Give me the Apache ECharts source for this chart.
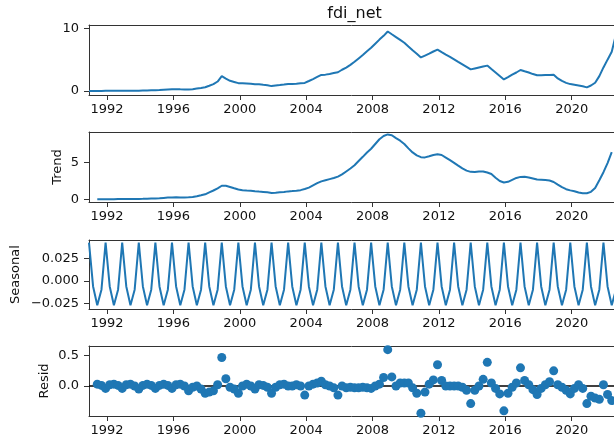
<!DOCTYPE html>
<html>
<head>
<meta charset="utf-8">
<script src="https://cdn.jsdelivr.net/npm/echarts@6/dist/echarts.min.js"></script>
</head>
<body style="margin:0">
<div id="chart" style="width:614px;height:444px"></div>
<script>
// quarterly observations, Dec 1990 .. Dec 2022 (first value Dec 1990, then Mar/Jun/Sep/Dec per year)
const observed = [
  0.00,
  0.00, 0.01, 0.01, 0.02,   // 1991
  0.03, 0.02, 0.03, 0.03,   // 1992
  0.04, 0.04, 0.04, 0.04,   // 1993
  0.06, 0.08, 0.10, 0.12,   // 1994
  0.15, 0.19, 0.23, 0.26,   // 1995
  0.28, 0.26, 0.25, 0.25,   // 1996
  0.29, 0.39, 0.49, 0.60,   // 1997
  0.84, 1.09, 1.51, 2.36,   // 1998
  1.96, 1.63, 1.44, 1.25,   // 1999
  1.24, 1.20, 1.15, 1.09,   // 2000
  1.06, 0.98, 0.93, 0.78,   // 2001
  0.87, 0.94, 1.02, 1.12,   // 2002
  1.11, 1.17, 1.24, 1.29,   // 2003
  1.59, 1.90, 2.24, 2.57,   // 2004
  2.61, 2.72, 2.86, 2.99,   // 2005
  3.39, 3.74, 4.17, 4.66,   // 2006
  5.20, 5.75, 6.35, 6.90,   // 2007
  7.55, 8.20, 8.80, 9.50,   // 2008
  9.05, 8.60, 8.15, 7.70,   // 2009
  7.10, 6.50, 5.95, 5.35,   // 2010
  5.65, 5.95, 6.30, 6.60,   // 2011
  6.20, 5.80, 5.45, 5.05,   // 2012
  4.65, 4.25, 3.85, 3.45,   // 2013
  3.60, 3.75, 3.90, 4.05,   // 2014
  3.50, 2.95, 2.40, 1.85,   // 2015
  2.20, 2.60, 2.95, 3.35,   // 2016
  3.15, 2.95, 2.70, 2.50,   // 2017
  2.52, 2.55, 2.57, 2.60,   // 2018
  2.01, 1.60, 1.30, 1.10,   // 2019
  1.00, 0.88, 0.76, 0.58,   // 2020
  0.87, 1.32, 2.37, 3.76,   // 2021
  5.00, 6.25, 9.00, 10.00   // 2022
];

const trend = [
  null,
  null, 0.01, 0.01, 0.02,
  0.02, 0.02, 0.03, 0.03,
  0.03, 0.04, 0.04, 0.05,
  0.06, 0.08, 0.10, 0.12,
  0.15, 0.19, 0.23, 0.26,
  0.27, 0.26, 0.26, 0.28,
  0.32, 0.42, 0.55, 0.68,
  0.95, 1.20, 1.50, 1.85,
  1.85, 1.68, 1.50, 1.33,
  1.25, 1.20, 1.16, 1.10,
  1.05, 1.00, 0.95, 0.86,
  0.90, 0.95, 1.00, 1.08,
  1.12, 1.18, 1.25, 1.40,
  1.60, 1.90, 2.20, 2.45,
  2.60, 2.75, 2.90, 3.10,
  3.40, 3.80, 4.20, 4.65,
  5.23, 5.80, 6.39, 6.90,
  7.55, 8.20, 8.65, 8.86,
  8.75, 8.35, 8.00, 7.55,
  6.95, 6.40, 6.00, 5.75,
  5.72, 5.88, 6.05, 6.15,
  6.05, 5.70, 5.35, 4.98,
  4.60, 4.22, 3.92, 3.75,
  3.72, 3.80, 3.80, 3.65,
  3.45, 2.95, 2.50, 2.30,
  2.38, 2.65, 2.92, 3.06,
  3.08, 2.97, 2.84, 2.70,
  2.68, 2.62, 2.56, 2.36,
  2.00, 1.65, 1.38, 1.22,
  1.10, 0.93, 0.83, 0.82,
  1.02, 1.55, 2.60, 3.70,
  4.95, 6.45, null, null
];

const seasonal = [
  0.0426,
  -0.006, -0.027, -0.0096, 0.0426,
  -0.006, -0.027, -0.0096, 0.0426,
  -0.006, -0.027, -0.0096, 0.0426,
  -0.006, -0.027, -0.0096, 0.0426,
  -0.006, -0.027, -0.0096, 0.0426,
  -0.006, -0.027, -0.0096, 0.0426,
  -0.006, -0.027, -0.0096, 0.0426,
  -0.006, -0.027, -0.0096, 0.0426,
  -0.006, -0.027, -0.0096, 0.0426,
  -0.006, -0.027, -0.0096, 0.0426,
  -0.006, -0.027, -0.0096, 0.0426,
  -0.006, -0.027, -0.0096, 0.0426,
  -0.006, -0.027, -0.0096, 0.0426,
  -0.006, -0.027, -0.0096, 0.0426,
  -0.006, -0.027, -0.0096, 0.0426,
  -0.006, -0.027, -0.0096, 0.0426,
  -0.006, -0.027, -0.0096, 0.0426,
  -0.006, -0.027, -0.0096, 0.0426,
  -0.006, -0.027, -0.0096, 0.0426,
  -0.006, -0.027, -0.0096, 0.0426,
  -0.006, -0.027, -0.0096, 0.0426,
  -0.006, -0.027, -0.0096, 0.0426,
  -0.006, -0.027, -0.0096, 0.0426,
  -0.006, -0.027, -0.0096, 0.0426,
  -0.006, -0.027, -0.0096, 0.0426,
  -0.006, -0.027, -0.0096, 0.0426,
  -0.006, -0.027, -0.0096, 0.0426,
  -0.006, -0.027, -0.0096, 0.0426,
  -0.006, -0.027, -0.0096, 0.0426,
  -0.006, -0.027, -0.0096, 0.0426,
  -0.006, -0.027, -0.0096, 0.0426,
  -0.006, -0.027, -0.0096, 0.0426
];

const resid = [
  null,
  null, 0.03, 0.01, -0.04,
  0.02, 0.03, 0.01, -0.04,
  0.02, 0.03, 0.00, -0.05,
  0.01, 0.03, 0.01, -0.04,
  0.01, 0.03, 0.01, -0.04,
  0.02, 0.03, 0.00, -0.08,
  -0.02, 0.00, -0.05, -0.12,
  -0.10, -0.08, 0.02, 0.47,
  0.12, -0.02, -0.05, -0.12,
  0.00, 0.03, 0.00, -0.05,
  0.02, 0.01, -0.02, -0.12,
  -0.02, 0.02, 0.03, 0.00,
  0.00, 0.02, 0.00, -0.15,
  0.00, 0.03, 0.05, 0.08,
  0.02, 0.00, -0.03, -0.15,
  0.00, -0.03, -0.02, -0.03,
  -0.03, -0.02, -0.03, -0.04,
  0.00, 0.03, 0.14, 0.60,
  0.15, 0.00, 0.05, 0.05,
  0.05, -0.03, -0.12, -0.45,
  -0.10, 0.03, 0.10, 0.35,
  0.09, 0.00, 0.00, 0.00,
  0.00, -0.02, -0.07, -0.29,
  -0.07, 0.00, 0.11, 0.39,
  0.05, -0.04, -0.13, -0.41,
  -0.12, -0.02, 0.05, 0.30,
  0.09, 0.02, -0.06, -0.14,
  -0.04, 0.02, 0.07, 0.25,
  0.02, -0.02, -0.07, -0.13,
  -0.04, 0.02, -0.04, -0.29,
  -0.17, -0.20, -0.22, 0.02,
  -0.14, -0.24, null, null
];

const yearTicks = [1992, 1996, 2000, 2004, 2008, 2012, 2016, 2020];

// quarter dates -> fractional years
const xs = observed.map((_, i) => {
  const d = Date.UTC(1990, 11 + 3 * i, 1);
  const y = new Date(d).getUTCFullYear();
  const s = Date.UTC(y, 0, 1), e = Date.UTC(y + 1, 0, 1);
  return y + (d - s) / (e - s);
});
// the plot runs off the right edge of the picture, so the visible window stops mid-2022
const xMin = xs[0], xMax = 2022.55;

const pair = arr => arr.map((v, i) => [xs[i], v]);

const blue = '#1f77b4';
const font = 'DejaVu Sans';
const dark = '#333';

const grids = [
  { top: 25, height: 70 },
  { top: 132, height: 70 },
  { top: 240, height: 69 },
  { top: 346, height: 70 }
].map(g => Object.assign({ left: 89, right: 0 }, g));

const spine = { show: true, onZero: false, lineStyle: { color: dark, width: 1 } };

const xAxes = [];
grids.forEach((g, i) => {
  xAxes.push({
    type: 'value', gridIndex: i, min: xMin, max: xMax, position: 'bottom',
    axisLine: spine,
    splitLine: { show: false },
    axisTick: { show: true, length: 5, lineStyle: { color: dark, width: 1 }, customValues: yearTicks },
    axisLabel: { customValues: yearTicks, margin: 8, color: '#111', fontSize: 13, fontFamily: font, formatter: v => String(v) }
  });
  // top spine
  xAxes.push({
    type: 'value', gridIndex: i, min: xMin, max: xMax, position: 'top',
    axisLine: spine, axisTick: { show: false }, axisLabel: { show: false }, splitLine: { show: false }
  });
});

function yAxis(i, min, max, ticks, fmt, name, gap) {
  return {
    type: 'value', gridIndex: i, min: min, max: max, position: 'left',
    name: name, nameLocation: 'middle', nameGap: gap, nameRotate: 90, nameMoveOverlap: false,
    nameTextStyle: { color: '#111', fontSize: 13, fontFamily: font },
    axisLine: spine,
    splitLine: { show: false },
    axisTick: { show: true, length: 5, lineStyle: { color: dark, width: 1 }, customValues: ticks },
    axisLabel: { customValues: ticks, margin: 10, color: '#111', fontSize: 13, fontFamily: font, formatter: fmt }
  };
}

const minus = s => s.replace('-', '\u2212');
const yAxes = [
  yAxis(0, -0.64, 10.53, [0, 10], v => String(Math.round(v)), '', 0),
  yAxis(1, -0.37, 9.19, [0, 5], v => String(Math.round(v)), 'Trend', 25),
  yAxis(2, -0.0311, 0.0456, [-0.025, 0, 0.025], v => minus(v.toFixed(3)), 'Seasonal', 67),
  yAxis(3, -0.495, 0.66, [0, 0.5], v => minus(v.toFixed(1)), 'Resid', 38)
];

const lineSeries = (i, arr) => ({
  type: 'line', xAxisIndex: 2 * i, yAxisIndex: i, data: pair(arr),
  showSymbol: false, symbol: 'none', connectNulls: false,
  lineStyle: { color: blue, width: 2 }, z: 3
});

const chart = echarts.init(document.getElementById('chart'), null, { renderer: 'canvas' });
chart.setOption({
  animation: false,
  textStyle: { fontFamily: font },
  graphic: [{
    type: 'text', x: 354.5, y: 14,
    style: { text: 'fdi_net', fill: '#111', font: '16px "DejaVu Sans"', align: 'center', verticalAlign: 'middle', textAlign: 'center', textVerticalAlign: 'middle' }
  }],
  grid: grids,
  xAxis: xAxes,
  yAxis: yAxes,
  series: [
    lineSeries(0, observed),
    lineSeries(1, trend),
    lineSeries(2, seasonal),
    {
      type: 'line', xAxisIndex: 6, yAxisIndex: 3, data: [[xMin, 0], [xMax, 0]],
      symbol: 'none', lineStyle: { color: '#000', width: 1.6 }, z: 2, silent: true
    },
    {
      type: 'scatter', xAxisIndex: 6, yAxisIndex: 3, data: pair(resid).filter(p => p[1] !== null),
      symbol: 'circle', symbolSize: 9, itemStyle: { color: blue, opacity: 1 }, z: 3
    }
  ]
});
</script>
</body>
</html>
